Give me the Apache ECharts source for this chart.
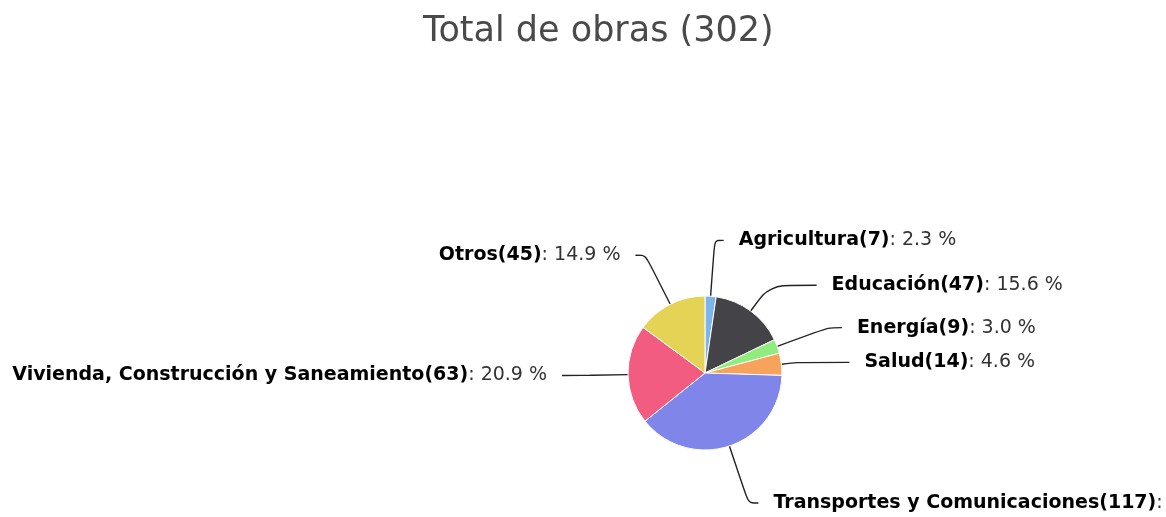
<!DOCTYPE html>
<html>
<head>
<meta charset="utf-8">
<style>
  html, body { margin: 0; padding: 0; background: #fff; }
  #chart { width: 1166px; height: 517px; }
</style>
<script src="https://cdn.jsdelivr.net/npm/echarts@6/dist/echarts.min.js"></script>
</head>
<body>
<div id="chart"></div>
<script>
var categories = ['Agricultura', 'Educación', 'Energía', 'Salud', 'Transportes y Comunicaciones', 'Vivienda, Construcción y Saneamiento', 'Otros'];
var values = [7, 47, 9, 14, 117, 63, 45];
var colors = ['#7cb5ec', '#434348', '#90ed7d', '#f7a35c', '#8085e9', '#f15c80', '#e4d354'];
// connector lengths per slice (first / second segment)
var lineLen1 = [56, 32, 54, 16, 60, 40, 55];
var lineLen2 = [9, 47, 14, 52, 10, 26, 10];

var total = 0;
for (var i = 0; i < values.length; i++) total += values[i];

var pieData = categories.map(function (c, i) {
    return {
        name: c,
        value: values[i],
        itemStyle: { color: colors[i] },
        labelLine: { length: lineLen1[i], length2: lineLen2[i] }
    };
});

var myChart = echarts.init(document.getElementById('chart'));
var option = {
    title: {
        text: 'Total de obras (' + total + ')',
        left: 418,
        top: 9,
        textStyle: {
            fontFamily: 'DejaVu Sans',
            fontSize: 35,
            fontWeight: 'normal',
            color: '#4a4a4a'
        }
    },
    series: [
        {
            type: 'pie',
            center: [705, 373],
            radius: 77,
            startAngle: 90,
            clockwise: true,
            percentPrecision: 1,
            avoidLabelOverlap: false,
            itemStyle: {
                borderColor: '#fff',
                borderWidth: 1
            },
            label: {
                overflow: 'none',
                distanceToLabelLine: 15,
                fontFamily: 'DejaVu Sans',
                formatter: function (p) {
                    return '{b|' + p.name + '(' + p.value + ')}{v|: ' + p.percent.toFixed(1) + ' %}';
                },
                rich: {
                    b: { fontFamily: 'DejaVu Sans', fontWeight: 'bold', fontSize: 19, color: '#000' },
                    v: { fontFamily: 'DejaVu Sans', fontSize: 19, color: '#333' }
                }
            },
            labelLine: {
                smooth: 0.3,
                lineStyle: { color: '#222', width: 1.4 }
            },
            data: pieData
        }
    ]
};
myChart.setOption(option);
</script>
</body>
</html>
